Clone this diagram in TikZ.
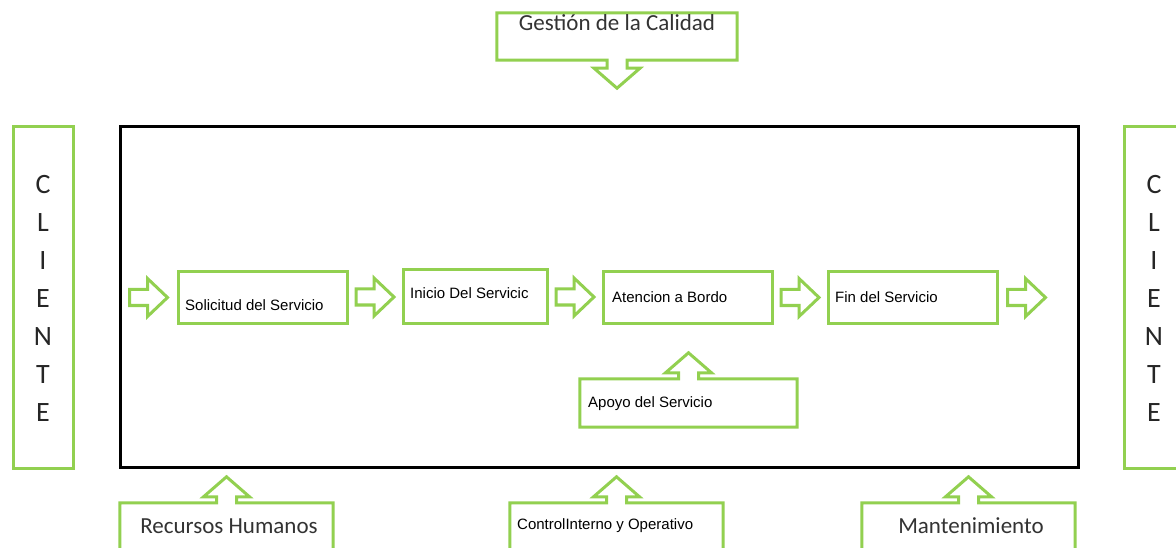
\documentclass[tikz,border=0pt]{standalone}
\usepackage{fontspec}
\setmainfont{Carlito}
\newfontfamily\arialfont{Liberation Sans}
\usetikzlibrary{calc}

\definecolor{verde}{RGB}{146,208,80}

\tikzset{
  caja/.style={draw=verde, line width=3pt, inner sep=0pt},
  flecha/.style={draw=verde, line width=3pt, fill=white, line join=miter},
  txtproc/.style={font=\arialfont\fontsize{15}{17}\selectfont, inner sep=0pt, anchor=west},
  txtarea/.style={font=\fontsize{23}{26}\selectfont, text=black!80, inner sep=0pt},
  txtcli/.style={font=\fontsize{28}{38}\selectfont, text=black!85, align=center, inner sep=0pt},
  rarr/.pic={\draw[flecha] (-19,-8) -- (-1,-8) -- (-1,-19) -- (19,0) -- (-1,19) -- (-1,8) -- (-19,8) -- cycle;}
}

% box with an arrow on its top edge
\newcommand{\cajaarriba}[1]{%
  \draw[flecha] (#1.south west) -- (#1.north west) -- ($(#1.north)+(-10,0)$) -- ++(0,-6) -- ++(-13,0)
    -- ++(23,-20) -- ++(23,20) -- ++(-13,0) -- ++(0,6) -- (#1.north east) -- (#1.south east) -- cycle;}

\begin{document}
\begin{tikzpicture}[x=1pt, y=-1pt]

\useasboundingbox (0,0) rectangle (1176,548);

% Main frame
\node[draw, line width=3pt, minimum width=958pt, minimum height=340pt, inner sep=0pt] (marco) at (599,297) {};

% Clients
\node[caja, minimum width=60pt, minimum height=341pt] (cli1) at (43,297.5) {};
\node[txtcli] (cli1txt) at (43,298.5) {C\\L\\I\\E\\N\\T\\E};
\node[caja, minimum width=60pt, minimum height=341pt] (cli2) at (1154,297.5) {};
\node[txtcli] (cli2txt) at (1154,298.5) {C\\L\\I\\E\\N\\T\\E};

% Process boxes
\node[caja, minimum width=169pt, minimum height=51pt] (sol) at (262.5,297.5) {};
\node[txtproc] (soltxt) at (185,305) {Solicitud del Servicio};

\node[caja, minimum width=144pt, minimum height=53pt] (ini) at (475,296.5) {};
\node[txtproc] (initxt) at (410,293) {Inicio Del Servicic};

\node[caja, minimum width=169pt, minimum height=51pt] (ate) at (687.5,297.5) {};
\node[txtproc] (atetxt) at (612,297) {Atencion a Bordo};

\node[caja, minimum width=169pt, minimum height=51pt] (fin) at (912.5,297.5) {};
\node[txtproc] (fintxt) at (835,297) {Fin del Servicio};

% Flow arrows
\pic at ($(sol.west)+(-28,0)$) {rarr};
\pic at ($(sol.east)!0.5!(ini.west)$) {rarr};
\pic at ($(ini.east)!0.5!(ate.west)$) {rarr};
\pic at ($(ate.east)!0.5!(fin.west)$) {rarr};
\pic at ($(fin.east)+(28,0)$) {rarr};

% Support
\node[minimum width=217pt, minimum height=48pt, inner sep=0pt] (apo) at (688.5,403) {};
\cajaarriba{apo}
\node[txtproc] (apotxt) at (588,404) {Apoyo del Servicio};

% Quality management (top)
\node[minimum width=240pt, minimum height=47pt, inner sep=0pt] (ges) at (617,36.5) {};
\draw[flecha] (ges.north west) -- (ges.north east) -- (ges.south east) -- ($(ges.south)+(10,0)$) -- ++(0,8) -- ++(13,0)
  -- ++(-23,20) -- ++(-23,-20) -- ++(13,0) -- ++(0,-8) -- (ges.south west) -- cycle;
\node[txtarea] (gestxt) at (617,23) {Gestión de la Calidad};

% Bottom areas
\node[minimum width=213pt, minimum height=57pt, inner sep=0pt] (rh) at (226.5,531.5) {};
\cajaarriba{rh}
\node[txtarea] (rhtxt) at (229,526) {Recursos Humanos};

\node[minimum width=213pt, minimum height=57pt, inner sep=0pt] (ci) at (616.5,531.5) {};
\cajaarriba{ci}
\node[txtproc] (citxt) at (517,526) {ControlInterno y Operativo};

\node[minimum width=213pt, minimum height=57pt, inner sep=0pt] (man) at (968.5,531.5) {};
\cajaarriba{man}
\node[txtarea] (mantxt) at (971,526) {Mantenimiento};

\end{tikzpicture}
\end{document}
